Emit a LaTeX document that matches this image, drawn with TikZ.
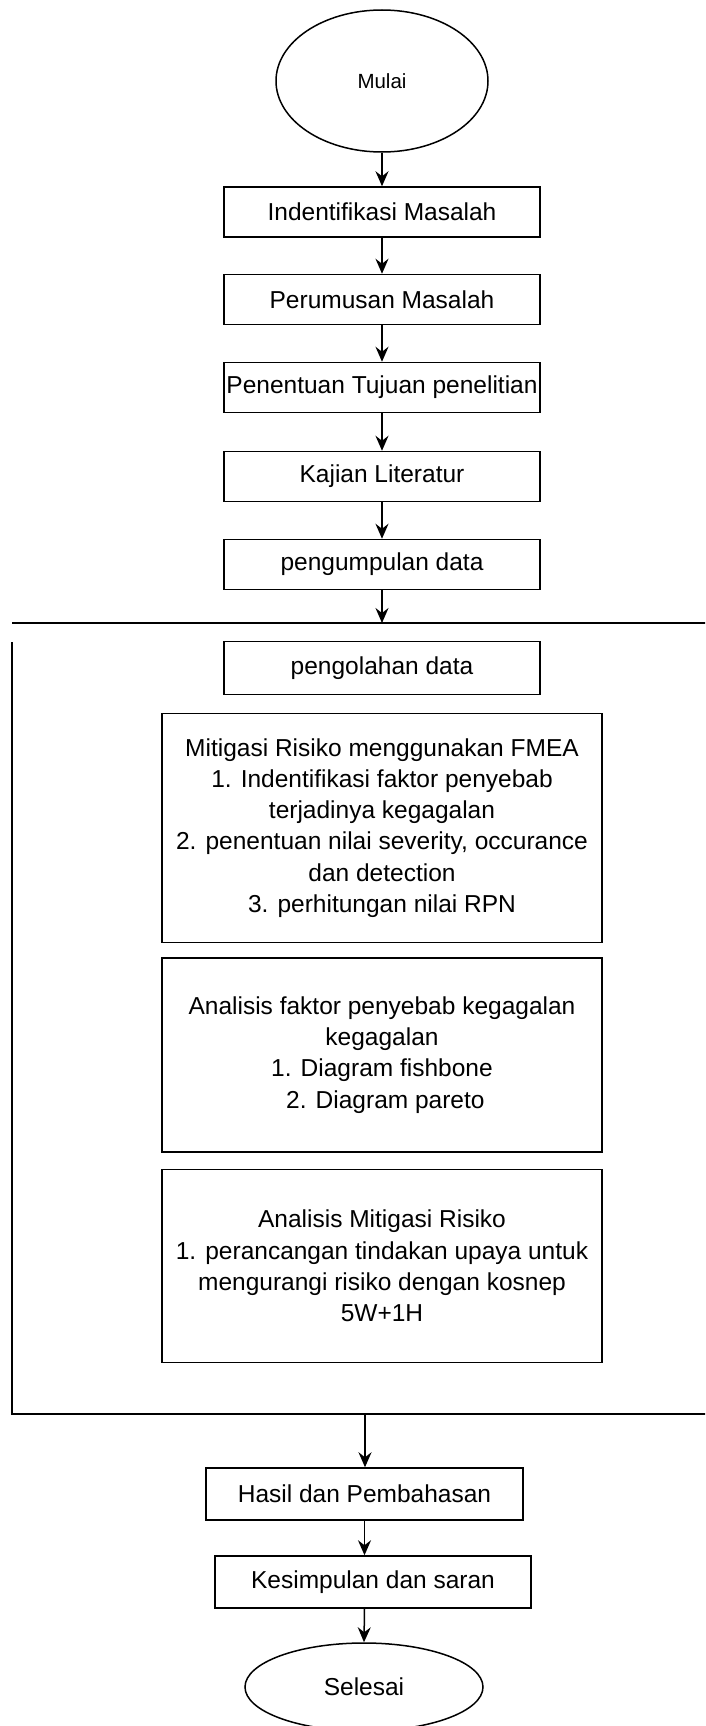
\documentclass[tikz,border=0pt]{standalone}
\usepackage{fontspec}
\setmainfont{Liberation Sans}
\usetikzlibrary{shapes.geometric,arrows.meta}
\begin{document}
\begin{tikzpicture}[x=1pt,y=-1pt,
  every node/.style={font=\fontsize{24.5}{31.2}\selectfont},
  stepbox/.style={draw,line width=1.5pt,rectangle,minimum width=316pt,minimum height=50pt,inner sep=0pt,align=center},
  widebox/.style={stepbox,minimum width=440pt},
  term/.style={draw,line width=1.5pt,ellipse,inner sep=0pt},
  flow/.style={line width=1.5pt,-{Stealth[length=15pt,width=13pt,inset=5pt]}},
  frame/.style={line width=1.5pt}]
\useasboundingbox (0,0) rectangle (705,1726);
\begin{scope}
\clip (0,0) rectangle (705,1726);
\node[term,minimum width=212pt,minimum height=142pt,font=\fontsize{20.5}{24}\selectfont] (mulai) at (382,81) {Mulai};
\node[stepbox] (b1) at (382,212) {Indentifikasi Masalah};
\node[stepbox] (b2) at (382,299.5) {Perumusan Masalah};
\node[stepbox] (b3) at (382,387.5) {Penentuan Tujuan penelitian};
\node[stepbox] (b4) at (382,476.5) {Kajian Literatur};
\node[stepbox] (b5) at (382,564.5) {pengumpulan data};
\coordinate (tl) at (382,623);
\coordinate (tlL) at (12,623);
\coordinate (tlR) at (706,623);
\coordinate (vtop) at (12,642);
\coordinate (blL) at (12,1414);
\coordinate (blR) at (706,1414);
\coordinate (bl) at (365,1414);
\node[stepbox,minimum height=53pt] (b6) at (382,668) {pengolahan data};
\node[widebox,minimum height=229pt] (b7) at (382,828) {Mitigasi Risiko menggunakan FMEA\\1. Indentifikasi faktor penyebab\\terjadinya kegagalan\\2. penentuan nilai severity, occurance\\dan detection\\3. perhitungan nilai RPN};
\node[widebox,minimum height=194pt] (b8) at (382,1055) {Analisis faktor penyebab kegagalan\\kegagalan\\1. Diagram fishbone\\\ 2. Diagram pareto};
\node[widebox,minimum height=193pt] (b9) at (382,1266) {Analisis Mitigasi Risiko\\1. perancangan tindakan upaya untuk\\mengurangi risiko dengan kosnep\\5W+1H};
\node[stepbox,minimum width=317pt,minimum height=52pt] (b10) at (364.5,1494) {Hasil dan Pembahasan};
\node[stepbox,minimum height=52pt] (b11) at (373,1582) {Kesimpulan dan saran};
\node[term,minimum width=238pt,minimum height=88pt] (selesai) at (364,1687) {Selesai};
\draw[frame] (tlL) -- (tlR);
\draw[frame] (vtop) -- (blL) -- (blR);
\draw[flow] (mulai.south) -- (b1.north);
\draw[flow] (b1) -- (b2);
\draw[flow] (b2) -- (b3);
\draw[flow] (b3) -- (b4);
\draw[flow] (b4) -- (b5);
\draw[flow] (b5) -- (tl);
\draw[flow] (bl) -- (b10.north -| bl);
\draw[flow] (b10.south) -- (b10.south |- b11.north);
\draw[flow] (b10.south |- b11.south) -- (selesai.north);
\end{scope}
\end{tikzpicture}
\end{document}
